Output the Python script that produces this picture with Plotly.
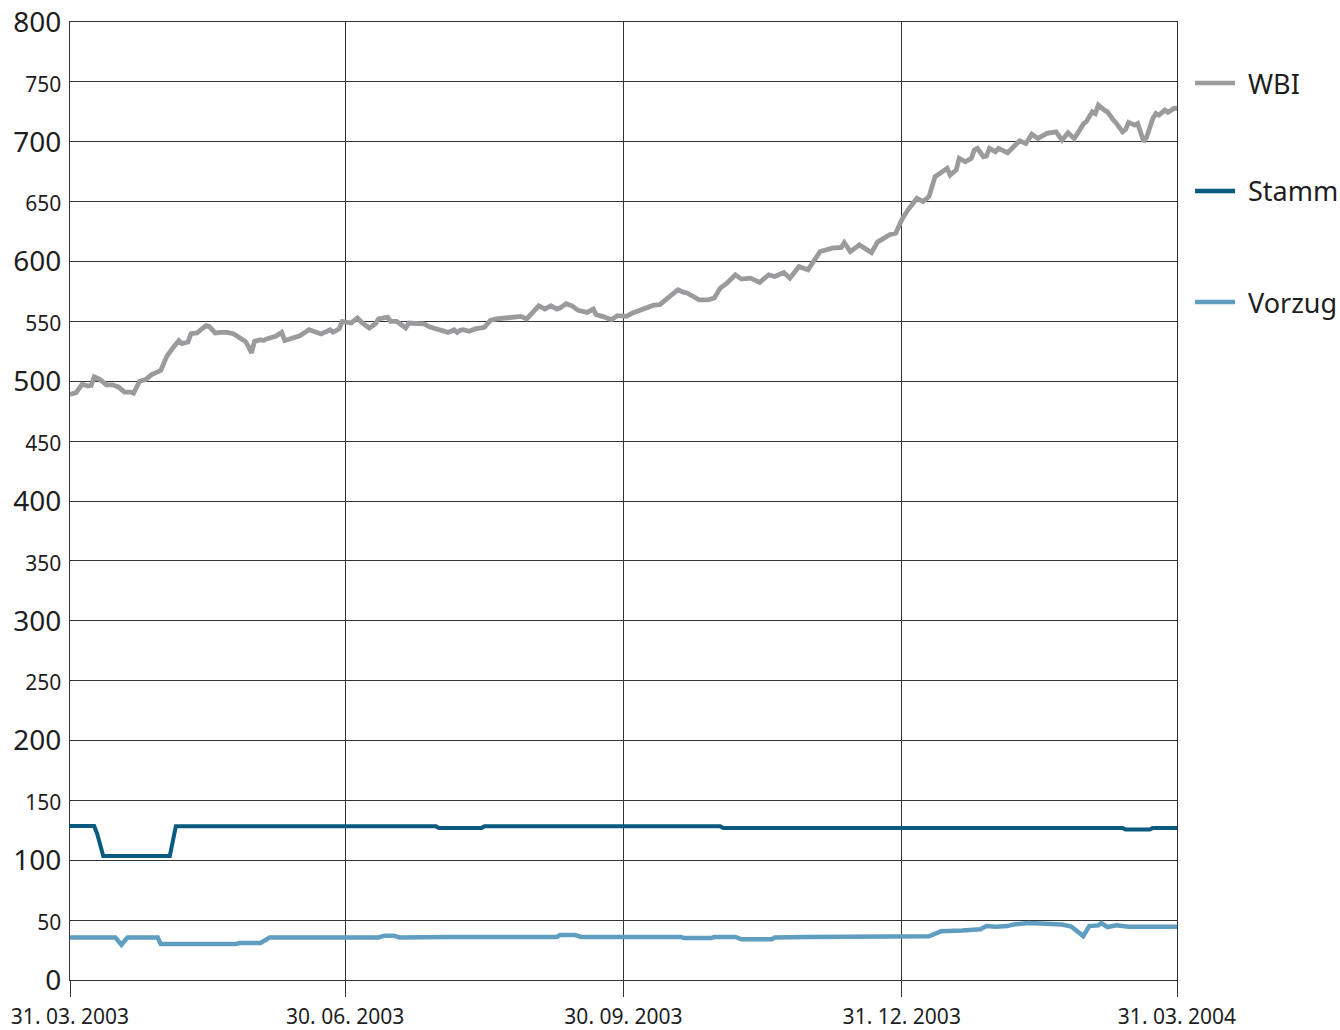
import plotly.graph_objects as go

# ---------------- data ----------------
wbi_dates = [
    "2003-03-31","2003-04-02","2003-04-04","2003-04-06","2003-04-07","2003-04-08","2003-04-10","2003-04-12",
    "2003-04-14","2003-04-16","2003-04-18","2003-04-20","2003-04-21","2003-04-23","2003-04-25","2003-04-27",
    "2003-04-30","2003-05-02","2003-05-04","2003-05-06","2003-05-07","2003-05-09","2003-05-10","2003-05-12",
    "2003-05-14","2003-05-15","2003-05-16","2003-05-18","2003-05-20","2003-05-22","2003-05-24","2003-05-26",
    "2003-05-28","2003-05-29","2003-05-30","2003-05-31","2003-06-02","2003-06-03","2003-06-04","2003-06-07",
    "2003-06-09","2003-06-10","2003-06-13","2003-06-15","2003-06-18","2003-06-22","2003-06-25","2003-06-26",
    "2003-06-28","2003-06-29","2003-07-02","2003-07-04","2003-07-06","2003-07-08","2003-07-10","2003-07-11",
    "2003-07-14","2003-07-15","2003-07-17","2003-07-20","2003-07-21","2003-07-24","2003-07-26","2003-07-28",
    "2003-07-30","2003-08-01","2003-08-03","2003-08-05","2003-08-06","2003-08-07","2003-08-08","2003-08-10",
    "2003-08-12","2003-08-15","2003-08-17","2003-08-19","2003-08-22","2003-08-24","2003-08-27","2003-08-29",
    "2003-08-31","2003-09-02","2003-09-04","2003-09-06","2003-09-08","2003-09-09","2003-09-11","2003-09-13",
    "2003-09-15","2003-09-18","2003-09-20","2003-09-21","2003-09-23","2003-09-26","2003-09-28","2003-10-01",
    "2003-10-03","2003-10-06","2003-10-08","2003-10-10","2003-10-12","2003-10-15","2003-10-18","2003-10-20",
    "2003-10-21","2003-10-25","2003-10-28","2003-10-30","2003-11-01","2003-11-03","2003-11-06","2003-11-08",
    "2003-11-11","2003-11-14","2003-11-17","2003-11-19","2003-11-22","2003-11-24","2003-11-27","2003-11-30",
    "2003-12-02","2003-12-04","2003-12-08","2003-12-11","2003-12-12","2003-12-14","2003-12-17","2003-12-21",
    "2003-12-23","2003-12-27","2003-12-29","2003-12-31","2004-01-02","2004-01-05","2004-01-07","2004-01-09",
    "2004-01-11","2004-01-14","2004-01-15","2004-01-16","2004-01-18","2004-01-19","2004-01-21","2004-01-23",
    "2004-01-24","2004-01-25","2004-01-27","2004-01-28","2004-01-29","2004-01-31","2004-02-01","2004-02-04",
    "2004-02-06","2004-02-08","2004-02-10","2004-02-12","2004-02-14","2004-02-17","2004-02-20","2004-02-22",
    "2004-02-24","2004-02-26","2004-02-27","2004-02-29","2004-03-01","2004-03-03","2004-03-04","2004-03-05",
    "2004-03-07","2004-03-08","2004-03-10","2004-03-11","2004-03-13","2004-03-14","2004-03-15","2004-03-17",
    "2004-03-18","2004-03-20","2004-03-21","2004-03-23","2004-03-24","2004-03-25","2004-03-27","2004-03-28",
    "2004-03-30","2004-03-31",
]
wbi_values = [
    489, 490.5, 497.5, 496, 496.5, 503.7, 501.4, 497,
    497, 495.3, 491, 491, 490, 500, 501.4, 505.6,
    509, 520.8, 527.8, 534, 531.4, 532.8, 539.7, 540.3,
    544.5, 546.4, 545.8, 540.3, 540.8, 540.8, 539.7, 536,
    533.3, 529, 523.7, 533.3, 534.7, 534, 535.3, 537.5,
    540.8, 534, 537, 538, 543, 539.5, 543, 541,
    543.7, 550, 548.6, 552.8, 548, 544.5, 548, 552,
    553.6, 550, 550, 544.5, 548.6, 548, 548, 545.3,
    543.7, 543, 540.8, 543, 540.8, 542.5, 543, 541.7,
    543.7, 545, 550.8, 552, 552.8, 554.2, 554.2, 552,
    557, 563, 560.3, 563, 560.3, 561.1, 564.7, 563,
    559.2, 557.5, 560.3, 555.6, 554.2, 551.4, 554.8, 554.2,
    557, 560, 561.1, 563.5, 564, 570.8, 576.4, 574.2,
    573.7, 568, 568, 569.5, 577.8, 581.4, 588.9, 585.3,
    586.1, 582.5, 588.9, 587.5, 590.8, 586.1, 595.8, 593.1,
    600, 608.3, 611.2, 611.7, 615.8, 608.3, 613.9, 607.5,
    616.2, 622.3, 623.7, 634.8, 643, 652.8, 650, 654.2,
    670.8, 677, 677.8, 672.2, 676.4, 686.2, 683.3, 686.2,
    693.1, 694.5, 687.5, 688.1, 694.5, 691.7, 694.5, 690.8,
    695.8, 700.8, 698.6, 706.4, 702.8, 707, 708.3, 701.4,
    707.5, 702.8, 706.4, 714.7, 716.7, 725, 723.6, 730.6,
    726.4, 725, 718, 715.3, 708.3, 710.3, 716.2, 713.9,
    715.3, 700, 704.2, 719.5, 723.6, 722.2, 726.4, 724.5,
    727.8, 728,
]

stamm_dates = [
    "2003-03-31","2003-04-08","2003-04-09","2003-04-11","2003-05-03","2003-05-05",
    "2003-07-30","2003-07-31","2003-08-14","2003-08-15","2003-11-01","2003-11-02",
    "2004-03-13","2004-03-14","2004-03-22","2004-03-23","2004-03-31",
]
stamm_values = [
    128.5, 128.5, 122, 103.6, 103.6, 128.3,
    128.3, 127, 127, 128.3, 128.3, 127,
    127, 125.6, 125.6, 127, 127,
]

vorzug_dates = [
    "2003-03-31","2003-04-15","2003-04-17","2003-04-19","2003-04-29","2003-04-30",
    "2003-05-25","2003-05-26","2003-06-02","2003-06-05","2003-07-11","2003-07-13",
    "2003-07-16","2003-07-18","2003-08-04","2003-09-08","2003-09-09","2003-09-14",
    "2003-09-16","2003-10-19","2003-10-20","2003-10-29","2003-10-30","2003-11-06",
    "2003-11-08","2003-11-18","2003-11-19","2003-11-29","2003-11-30","2004-01-09",
    "2004-01-13","2004-01-20","2004-01-26","2004-01-28","2004-01-31","2004-02-04",
    "2004-02-06","2004-02-11","2004-02-16","2004-02-22","2004-02-25","2004-02-27",
    "2004-02-29","2004-03-02","2004-03-05","2004-03-06","2004-03-08","2004-03-11",
    "2004-03-15","2004-03-31",
]
vorzug_values = [
    35.5, 35.5, 29.5, 35.5, 35.5, 30,
    30, 31, 31, 35.5, 35.5, 37,
    37, 35.5, 36, 36, 37.5, 37.5,
    36, 36, 35, 35, 36, 36,
    34, 34, 35.5, 35.5, 36, 36.5,
    40.8, 41.4, 42.3, 45, 44.4, 45,
    46.4, 47.5, 46.9, 46.4, 44.7, 40.8,
    36.7, 45, 45.6, 47.5, 44.2, 45.6,
    44.4, 44.4,
]

series_names = ["WBI", "Stamm", "Vorzug"]
series_colors = ["#9b9b9d", "#0a5a80", "#5f9dc1"]

x_tick_dates = ["2003-03-31", "2003-06-30", "2003-09-30", "2003-12-31", "2004-03-31"]
x_tick_labels = ["31. 03. 2003", "30. 06. 2003", "30. 09. 2003", "31. 12. 2003", "31. 03. 2004"]
y_tick_values = list(range(0, 801, 50))
y_tick_labels = [str(v) if v % 100 == 0 else '<span style="font-size:21px">%d</span>' % v
                 for v in y_tick_values]

# ---------------- figure ----------------
FONT = "Noto Sans, Open Sans, DejaVu Sans, sans-serif"
fig = go.Figure()
all_x = [wbi_dates, stamm_dates, vorzug_dates]
all_y = [wbi_values, stamm_values, vorzug_values]
widths = [4.8, 4, 4.5]
for i, name in enumerate(series_names):
    fig.add_trace(go.Scatter(
        x=all_x[i], y=all_y[i], name=name, mode="lines",
        line=dict(color=series_colors[i], width=widths[i]),
        showlegend=False,
    ))

# legend drawn at the right of the plot (paper coordinates), one row per series
legend_rows_y = [0.9363, 0.8236, 0.7077]
for i, name in enumerate(series_names):
    fig.add_shape(type="line", xref="paper", yref="paper",
                  x0=1.0163, x1=1.0524, y0=legend_rows_y[i], y1=legend_rows_y[i],
                  line=dict(color=series_colors[i], width=4.5))
    fig.add_annotation(xref="paper", yref="paper", x=1.0625, y=legend_rows_y[i],
                       xanchor="left", yanchor="middle", showarrow=False,
                       text=name, font=dict(size=27, color="#1e1e1e", family=FONT))

fig.update_layout(
    width=1340, height=1030,
    margin=dict(l=70, r=163, t=22, b=50),
    paper_bgcolor="white", plot_bgcolor="white",
    font=dict(family=FONT, color="#1e1e1e"),
    showlegend=False,
)
fig.update_xaxes(
    type="date", automargin=False,
    range=["2003-03-31", "2004-03-31"],
    tickvals=x_tick_dates, ticktext=x_tick_labels,
    tickfont=dict(size=21, color="#1e1e1e", family=FONT),
    showgrid=True, gridcolor="#333333", gridwidth=1,
    showline=True, linecolor="#333333", linewidth=1, mirror=True,
    ticks="outside", ticklen=16, tickcolor="#333333", tickwidth=1,
    ticklabelstandoff=2, ticklabeloverflow="allow",
    zeroline=False,
)
fig.update_yaxes(
    range=[0, 800], automargin=False,
    tickvals=y_tick_values, ticktext=y_tick_labels,
    tickfont=dict(size=28, color="#1e1e1e", family=FONT),
    showgrid=True, gridcolor="#333333", gridwidth=1,
    showline=True, linecolor="#333333", linewidth=1, mirror=True,
    ticks="", ticklabelstandoff=2, ticklabeloverflow="allow",
    zeroline=False,
)

# remove the browser's default 8px page margin so the figure fills the window
fig.write_html("out.html",
               config={"displayModeBar": False},
               post_script="document.body.style.margin='0';document.body.style.overflow='hidden';")
